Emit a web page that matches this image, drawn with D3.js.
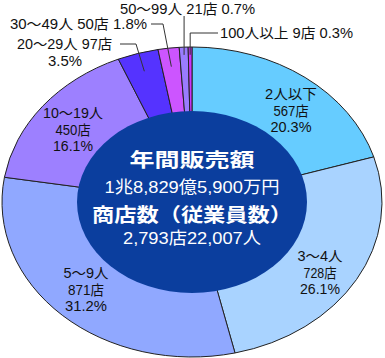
<!DOCTYPE html>
<html><head><meta charset="utf-8">
<script src="https://cdn.jsdelivr.net/npm/d3@7"></script>
<style>
html,body{margin:0;padding:0;background:#fff;}
svg{display:block;font-family:"Liberation Sans","Noto Sans CJK JP",sans-serif;}
</style></head>
<body>
<svg id="chart" width="385" height="358"></svg>
<script>
const categories = ["2人以下","3〜4人","5〜9人","10〜19人","20〜29人","30〜49人","50〜99人","100人以上"];
const stores = [567, 728, 871, 450, 97, 50, 21, 9];
const percents = ["20.3%","26.1%","31.2%","16.1%","3.5%","1.8%","0.7%","0.3%"];
const colors = ["#66ccff","#a9d3ff","#90a8ff","#9d80ff","#5533ff","#cc55ff","#9a7cff","#cc33ff"];
const centerLines = ["年間販売額","1兆8,829億5,900万円","商店数（従業員数）","2,793店22,007人"];

const svg = d3.select("#chart");
const cx = 192, cy = 202, rx = 190, ry = 155;
const irx = 115, iry = 91;

const pie = d3.pie().sort(null).value(d => d)(stores);
const arc = d3.arc().innerRadius(0).outerRadius(rx);

const g = svg.append("g").attr("transform", `translate(${cx},${cy}) scale(1,${ry/rx})`);
g.selectAll("path").data(pie).join("path")
  .attr("d", arc)
  .attr("fill", (d,i) => colors[i])
  .attr("stroke", "#222")
  .attr("stroke-width", 1)
  .attr("vector-effect", "non-scaling-stroke");

svg.append("ellipse").attr("cx", cx).attr("cy", cy).attr("rx", irx).attr("ry", iry)
  .attr("fill", "#0b3e9e");

function pt(d, f) {
  const a = (d.startAngle + d.endAngle) / 2;
  return [cx + rx * f * Math.sin(a), cy - ry * f * Math.cos(a)];
}

function label(x, y, s, anchor, len) {
  const t = svg.append("text").attr("x", x).attr("y", y)
    .attr("text-anchor", anchor).attr("dominant-baseline", "central")
    .attr("font-size", 14).attr("fill", "#111").text(s);
  if (len) t.attr("textLength", len).attr("lengthAdjust", "spacingAndGlyphs");
  return t;
}

// big slice labels (3 lines)
const bigLabels = [
  {i:0, x:291, y:94, w:[52,35,41]},
  {i:1, x:320, y:256, w:[45,33,40]},
  {i:2, x:86, y:273, w:[45,36,42]},
  {i:3, x:73, y:113, w:[60,35,40]}
];
bigLabels.forEach(b => {
  const lines = [categories[b.i], stores[b.i] + "店", percents[b.i]];
  lines.forEach((s,k) => label(b.x, b.y + k*16.5, s, "middle", b.w[k]));
});

const lineColor = "#333";
function leader(points) {
  svg.append("path").attr("d", d3.line()(points)).attr("fill","none").attr("stroke",lineColor).attr("stroke-width",1);
}
// 20〜29
{
  const p = pt(pie[4], 0.88);
  leader([[120,44],[136,44],[p[0],p[1]]]);
  label(17, 44, `${categories[4]} ${stores[4]}店`, "start", 95);
  label(48, 61, percents[4], "start", 34);
}
// 30〜49
{
  const p = pt(pie[5], 0.88);
  leader([[151,24],[163,24],[p[0],p[1]]]);
  label(10, 24, `${categories[5]} ${stores[5]}店 ${percents[5]}`, "start", 137);
}
// 50〜99
{
  const p = pt(pie[6], 0.95);
  leader([[p[0],16],[p[0],p[1]]]);
  label(120, 8.5, `${categories[6]} ${stores[6]}店 ${percents[6]}`, "start", 135);
}
// 100人以上
{
  const p = pt(pie[7], 0.95);
  leader([[218,33],[p[0],33],[p[0],p[1]]]);
  label(220, 33, `${categories[7]} ${stores[7]}店 ${percents[7]}`, "start", 133);
}

// center text
const cText = [
  {s:centerLines[0], y:160, size:19, w:125, bold:true},
  {s:centerLines[1], y:187, size:17, w:175, bold:false},
  {s:centerLines[2], y:215, size:19, w:200, bold:true},
  {s:centerLines[3], y:238, size:17, w:138, bold:false}
];
cText.forEach(c => {
  svg.append("text").attr("x",192).attr("y",c.y).attr("text-anchor","middle").attr("dominant-baseline","central")
    .attr("font-size",c.size).attr("font-weight",c.bold?"bold":"normal").attr("fill","#fff")
    .attr("textLength", c.w).attr("lengthAdjust","spacingAndGlyphs").text(c.s);
});
</script>
</body></html>
